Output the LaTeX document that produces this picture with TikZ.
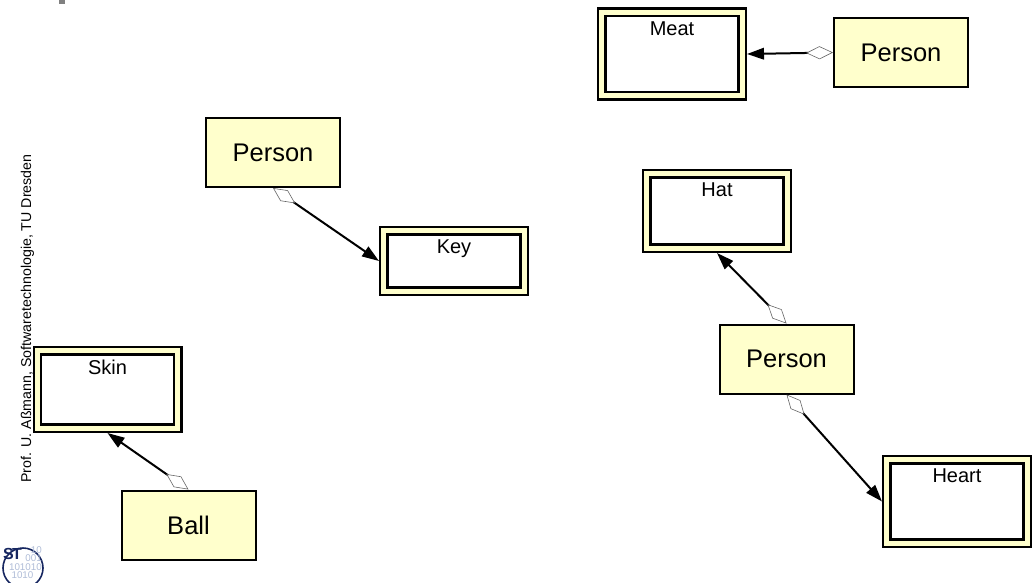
\documentclass[tikz,border=0pt]{standalone}
\usepackage{fontspec}
\setmainfont{Liberation Sans}
\usetikzlibrary{arrows.meta}
\definecolor{ylw}{RGB}{255,255,204}
\definecolor{stblue}{RGB}{22,38,96}
\definecolor{stdigit}{RGB}{175,188,215}
\tikzset{
  cls/.style={draw, line width=2pt, fill=ylw, minimum width=134pt, minimum height=69pt,
    font=\fontsize{25.5}{26}\selectfont},
  part/.style={draw, line width=2.4pt, double=ylw, double distance=5pt, fill=white,
    outer sep=4.9pt, minimum width=140.2pt},
  role/.style={font=\fontsize{20}{20}\selectfont, anchor=north, inner sep=0pt, yshift=-14pt},
  agg/.style={line width=2pt,
    {Diamond[open, length=27pt, width=13pt, line width=0.6pt, color=black!60]}-{Triangle[length=17pt, width=11.5pt]}},
  digits/.style={font=\fontsize{9.8}{9.8}\selectfont, text=stdigit, inner sep=0pt}
}
\begin{document}
\begin{tikzpicture}[x=1pt, y=-1pt]
\useasboundingbox (0,0) rectangle (1033,582);
\fill[gray] (59,0) rectangle (65,4);

\node[part, minimum height=83.6pt, label={[role]north:Meat}] (meat) at (672,54) {};
\node[part, minimum height=60.2pt, label={[role]north:Key}] (key) at (454,261) {};
\node[part, minimum height=74.2pt, label={[role]north:Hat}] (hat) at (717,211) {};
\node[part, minimum height=83.2pt, label={[role]north:Heart}] (heart) at (957,501.5) {};
\node[part, minimum height=77.2pt, label={[role]north:Skin}] (skin) at (107.5,389.5) {};

\node[cls] (p1) at (901,52.5) {Person};
\node[cls] (p2) at (273,152.5) {Person};
\node[cls] (p3) at (786.5,359) {Person};
\node[cls] (ball) at (188.5,525) {Ball};

\path[agg]
  (p1.west) edge (meat.east)
  (p2.south) edge (key.west)
  (p3.north) edge (hat.south)
  (p3.south) edge (heart.west)
  (ball.north) edge (skin.south);

\node[rotate=90, anchor=base, font=\fontsize{14.2}{14}\selectfont] (credit) at (31,318.5)
  {Prof. U. Aßmann, Softwaretechnologie, TU Dresden};

\draw[stblue, line width=1.6pt] (23,568) circle (20pt);
\node[digits, anchor=east] (d1) at (42,550) {10};
\node[digits, anchor=east] (d2) at (42,558.5) {001};
\node[digits, anchor=east] (d3) at (42,567) {101010};
\node[digits] (d4) at (22.5,575.5) {1010};
\node[font=\bfseries\fontsize{16}{16}\selectfont, text=stblue, inner sep=0pt] (logo) at (12.5,554) {S\kern-1.5pt T};
\end{tikzpicture}
\end{document}
